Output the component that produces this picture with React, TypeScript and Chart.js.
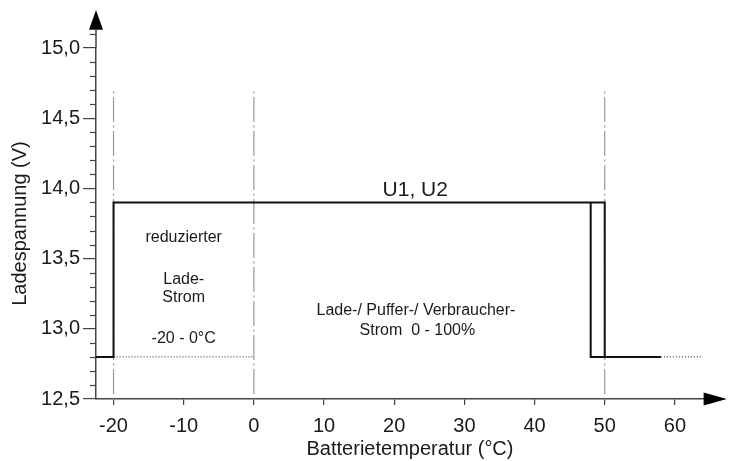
import React, { useEffect, useRef } from 'react';
import { Chart, registerables } from 'chart.js';

Chart.register(...registerables);

// ---- data ----
const U1_TEMPS = [-22.5, -20, -20, 50, 50, 58];
const U1_VOLTS = [12.8, 12.8, 13.9, 13.9, 12.8, 12.8];
const U2_TEMPS = [48, 48, 50];
const U2_VOLTS = [13.9, 12.8, 12.8];
const REDUCED_TEMPS = [-20, 0];
const REDUCED_VOLTS = [12.8, 12.8];
const TAIL_TEMPS = [58, 64];
const TAIL_VOLTS = [12.8, 12.8];
const BOUNDARY_TEMPS = [-20, 0, 50];
const BOUNDARY_VOLTS = [14.69, 12.5];
const X_TICKS = [-20, -10, 0, 10, 20, 30, 40, 50, 60];
const Y_MAJOR_TICKS = [12.5, 13.0, 13.5, 14.0, 14.5, 15.0];
const Y_MINOR_TICKS = [12.6, 12.7, 12.8, 12.9, 13.1, 13.2, 13.3, 13.4, 13.6, 13.7, 13.8, 13.9, 14.1, 14.2, 14.3, 14.4, 14.6, 14.7, 14.8, 14.9, 15.1];
const X_RANGE = [-22.5, 67];
const Y_RANGE = [12.5, 15.0];
const X_ARROW = [64.1, 67.4];
const Y_ARROW = [15.13, 15.27];
const NOTE_TEXTS = ['U1, U2', 'reduzierter', 'Lade-', 'Strom', '-20 - 0°C', 'Lade-/ Puffer-/ Verbraucher-', 'Strom  0 - 100%'];
const NOTE_TEMPS = [23, -10, -10, -10, -10, 23.1, 23.3];
const NOTE_VOLTS = [13.93, 13.65, 13.35, 13.22, 12.93, 13.13, 12.99];
const NOTE_SIZES = [21, 16, 16, 16, 16, 16, 16];

const FONT = "'Liberation Sans', Arial, sans-serif";
const AXIS_COLOR = '#444';
const TEXT_COLOR = '#1a1a1a';

const pts = (xs: number[], ys: number[]) => xs.map((x, i) => ({ x, y: ys[i] }));

const decorPlugin = {
  id: 'decor',
  afterDraw(chart: any) {
    const ctx = chart.ctx;
    const xs = chart.scales.x;
    const ys = chart.scales.y;
    const left = chart.chartArea.left;
    const bottom = chart.chartArea.bottom;
    ctx.save();
    // minor y ticks
    ctx.strokeStyle = AXIS_COLOR;
    ctx.lineWidth = 1.2;
    Y_MINOR_TICKS.forEach((v) => {
      const y = Math.round(ys.getPixelForValue(v)) + 0.5;
      ctx.beginPath();
      ctx.moveTo(left - 6, y);
      ctx.lineTo(left, y);
      ctx.stroke();
    });
    // y axis extension
    const yBase = ys.getPixelForValue(Y_ARROW[0]);
    const yTip = ys.getPixelForValue(Y_ARROW[1]);
    ctx.lineWidth = 1.5;
    ctx.beginPath();
    ctx.moveTo(left, chart.chartArea.top);
    ctx.lineTo(left, yBase);
    ctx.stroke();
    ctx.fillStyle = '#000';
    ctx.beginPath();
    ctx.moveTo(left - 7, yBase);
    ctx.lineTo(left + 7, yBase);
    ctx.lineTo(left, yTip);
    ctx.closePath();
    ctx.fill();
    // x arrow
    const xBase = xs.getPixelForValue(X_ARROW[0]);
    const xTip = xs.getPixelForValue(X_ARROW[1]);
    ctx.beginPath();
    ctx.moveTo(xBase, bottom - 6.5);
    ctx.lineTo(xBase, bottom + 6.5);
    ctx.lineTo(xTip, bottom);
    ctx.closePath();
    ctx.fill();
    // notes
    ctx.fillStyle = TEXT_COLOR;
    ctx.textAlign = 'center';
    ctx.textBaseline = 'middle';
    NOTE_TEXTS.forEach((t, i) => {
      ctx.font = `${NOTE_SIZES[i]}px ${FONT}`;
      const x = xs.getPixelForValue(NOTE_TEMPS[i]);
      const y = ys.getPixelForValue(NOTE_VOLTS[i]);
      if (i === 0) {
        ctx.textBaseline = 'bottom';
        ctx.fillText(t, x, y + 2);
        ctx.textBaseline = 'middle';
      } else {
        ctx.fillText(t, x, y);
      }
    });
    ctx.restore();
  },
};

export default function App() {
  const ref = useRef<HTMLCanvasElement | null>(null);
  useEffect(() => {
    if (!ref.current) return;
    const boundarySets = BOUNDARY_TEMPS.map((t) => ({
      data: pts([t, t], BOUNDARY_VOLTS),
      borderColor: '#999',
      borderWidth: 1.2,
      borderDash: [2, 3.5, 25, 3.5],
      pointRadius: 0,
      showLine: true,
      order: 5,
    }));
    const chart = new Chart(ref.current, {
      type: 'scatter',
      data: {
        datasets: [
          { data: pts(U1_TEMPS, U1_VOLTS), borderColor: '#111', borderWidth: 2, pointRadius: 0, showLine: true, order: 1 },
          { data: pts(U2_TEMPS, U2_VOLTS), borderColor: '#111', borderWidth: 2, pointRadius: 0, showLine: true, order: 1 },
          { data: pts(REDUCED_TEMPS, REDUCED_VOLTS), borderColor: '#444', borderWidth: 1.2, borderDash: [1, 2], pointRadius: 0, showLine: true, order: 2 },
          { data: pts(TAIL_TEMPS, TAIL_VOLTS), borderColor: '#444', borderWidth: 1.2, borderDash: [1, 2], pointRadius: 0, showLine: true, order: 2 },
          ...boundarySets,
        ] as any,
      },
      options: {
        animation: false,
        responsive: true,
        maintainAspectRatio: false,
        events: [],
        layout: { padding: { left: 0, top: 48, right: 12, bottom: 0 } },
        plugins: { legend: { display: false }, tooltip: { enabled: false } },
        scales: {
          x: {
            type: 'linear',
            min: X_RANGE[0],
            max: X_RANGE[1],
            afterBuildTicks: (s: any) => { s.ticks = X_TICKS.map((v) => ({ value: v })); },
            afterFit: (s: any) => { s.height = 62; },
            ticks: { font: { family: FONT, size: 20 }, color: TEXT_COLOR, padding: 9, autoSkip: false, maxRotation: 0 },
            grid: { drawOnChartArea: false, tickLength: 6, color: AXIS_COLOR, lineWidth: 1.2 },
            border: { color: AXIS_COLOR, width: 1.5 },
            title: { display: true, text: 'Batterietemperatur (°C)', font: { family: FONT, size: 20 }, color: TEXT_COLOR, padding: { top: 0, bottom: 0 } },
          },
          y: {
            type: 'linear',
            min: Y_RANGE[0],
            max: Y_RANGE[1],
            afterBuildTicks: (s: any) => { s.ticks = Y_MAJOR_TICKS.map((v) => ({ value: v })); },
            afterFit: (s: any) => { s.width = 96; },
            ticks: {
              font: { family: FONT, size: 20 },
              color: TEXT_COLOR,
              padding: 3,
              callback: (v: any) => Number(v).toFixed(1).replace('.', ','),
            },
            grid: { drawOnChartArea: false, tickLength: 13, color: AXIS_COLOR, lineWidth: 1.2 },
            border: { color: AXIS_COLOR, width: 1.5 },
            title: { display: true, text: 'Ladespannung (V)', font: { family: FONT, size: 20 }, color: TEXT_COLOR, padding: { top: 8, bottom: 0 } },
          },
        },
      } as any,
      plugins: [decorPlugin],
    });
    return () => chart.destroy();
  }, []);
  return (
    <div style={{ position: 'fixed', left: 0, top: 0, width: 736, height: 461, background: '#fff' }}>
      <canvas ref={ref} />
    </div>
  );
}
